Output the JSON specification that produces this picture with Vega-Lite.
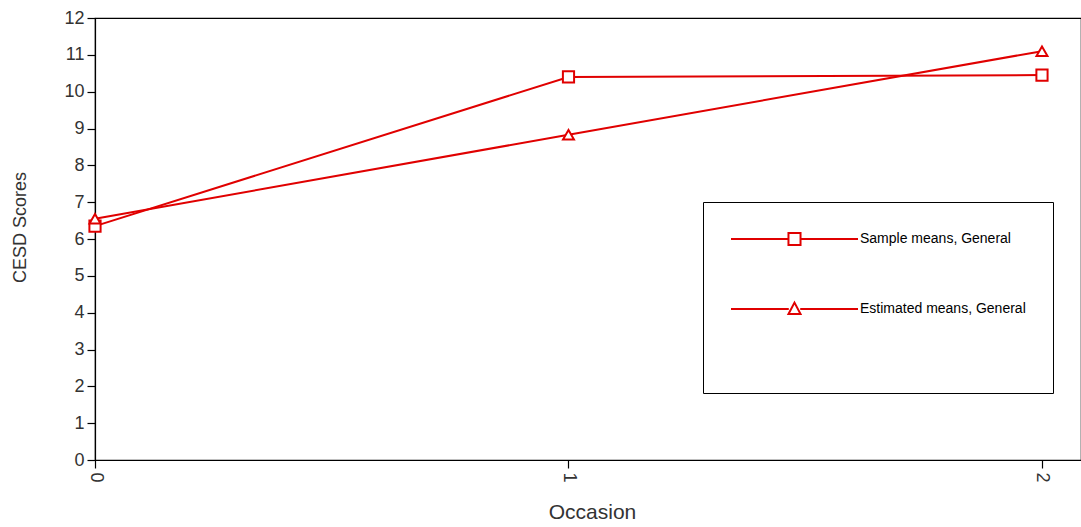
{
  "$schema": "https://vega.github.io/schema/vega-lite/v6.json",
  "autosize": {"type": "none"},
  "padding": {"left": 95, "top": 18, "right": 0, "bottom": 67},
  "width": 986,
  "height": 442,
  "background": "white",
  "config": {
    "view": {"stroke": "black", "strokeWidth": 1.2},
    "font": "Liberation Sans",
    "axis": {"grid": false, "domainColor": "black", "tickColor": "black", "labelColor": "#333", "titleColor": "#333", "labelFont": "Liberation Sans", "titleFont": "Liberation Sans", "titleFontWeight": "normal", "labelFontSize": 18, "titleFontSize": 19, "tickSize": 8, "domainWidth": 1.2, "tickWidth": 1.2, "labelOverlap": false}
  },
  "data": {
    "values": [
      {"series": "Sample means, General", "occasion": 0, "cesd": 6.35},
      {"series": "Sample means, General", "occasion": 1, "cesd": 10.4},
      {"series": "Sample means, General", "occasion": 2, "cesd": 10.45},
      {"series": "Estimated means, General", "occasion": 0, "cesd": 6.55},
      {"series": "Estimated means, General", "occasion": 1, "cesd": 8.83},
      {"series": "Estimated means, General", "occasion": 2, "cesd": 11.1}
    ]
  },
  "encoding": {
    "x": {"field": "occasion", "type": "quantitative", "scale": {"domain": [0, 2.0824], "nice": false, "zero": false},
      "axis": {"values": [0, 1, 2], "format": ".0f", "labelAngle": 90, "labelPadding": 4, "labelOverlap": false, "title": "Occasion", "titleFontSize": 21, "titleX": 497, "titleY": 52, "titleBaseline": "middle", "titleAlign": "center"}},
    "y": {"field": "cesd", "type": "quantitative", "scale": {"domain": [0, 12], "nice": false},
      "axis": {"values": [0,1,2,3,4,5,6,7,8,9,10,11,12], "labelPadding": 3, "title": "CESD Scores", "titleFontSize": 18, "titleX": -75, "titleY": 209, "titleAngle": -90, "titleBaseline": "middle", "titleAlign": "center"}}
  },
  "layer": [
    {
      "mark": {"type": "line", "strokeWidth": 2},
      "encoding": {
        "color": {"field": "series", "type": "nominal",
          "scale": {"domain": ["Sample means, General", "Estimated means, General"], "range": ["#e00000", "#e00000"]},
          "legend": {
            "title": "\u00a0\u00a0\u00a0\u00a0\u00a0\u00a0\u00a0\u00a0\u00a0\u00a0\u00a0\u00a0\u00a0\u00a0\u00a0\u00a0\u00a0\u00a0\u00a0\u00a0\u00a0\u00a0\u00a0\u00a0\u00a0\u00a0\u00a0\u00a0\u00a0\u00a0\u00a0\u00a0\u00a0\u00a0\u00a0\u00a0\u00a0\u00a0\u00a0\u00a0\u00a0\u00a0\u00a0\u00a0\u00a0\u00a0\u00a0\u00a0\u00a0\u00a0\u00a0\u00a0\u00a0\u00a0\u00a0\u00a0\u00a0\u00a0\u00a0\u00a0\u00a0\u00a0\u00a0\u00a0\u00a0\u00a0\u00a0\u00a0\u00a0\u00a0\u00a0\u00a0\u00a0\u00a0\u00a0\u00a0\u00a0\u00a0\u00a0\u00a0\u00a0\u00a0\u00a0\u00a0\u00a0\u00a0\u00a0\u00a0\u00a0\u00a0\u00a0\u00a0\u00a0\u00a0\u00a0\u00a0\u00a0\u00a0\u00a0\u00a0\u00a0\u00a0\u00a0\u00a0\u00a0\u00a0",
            "titleOrient": "bottom", "titleFontSize": 12, "titlePadding": 36, "titleLimit": 600,
            "orient": "none", "legendX": 608, "legendY": 184,
            "strokeColor": "black", "fillColor": "white", "padding": 27,
            "symbolSize": 16129, "symbolStrokeWidth": 2, "symbolFillColor": "white", "symbolStrokeColor": "#e00000",
            "clipHeight": 20, "rowPadding": 50, "labelOffset": 1,
            "labelFont": "Liberation Sans", "labelFontSize": 14, "labelColor": "black", "labelLimit": 400,
            "encode": {"symbols": {"update": {
              "shape": {"signal": "datum.value === 'Sample means, General' ? 'M-1,0L-0.095,0M0.095,0L1,0M-0.095,-0.095L0.095,-0.095L0.095,0.095L-0.095,0.095Z' : 'M-1,0L-0.09,0M0.09,0L1,0M0,-0.1L0.095,0.08L-0.095,0.08Z'"},
              "fill": {"value": "white"}, "stroke": {"value": "#e00000"}, "strokeWidth": {"value": 2}
            }}}
          }}
      }
    },
    {
      "transform": [{"filter": "datum.series === 'Sample means, General'"}],
      "mark": {"type": "point", "shape": "square", "filled": true, "fill": "white", "stroke": "#e00000", "strokeWidth": 2, "size": 125, "opacity": 1}
    },
    {
      "transform": [{"filter": "datum.series === 'Estimated means, General'"}],
      "mark": {"type": "point", "shape": "triangle-up", "filled": true, "fill": "white", "stroke": "#e00000", "strokeWidth": 2, "size": 120, "opacity": 1}
    }
  ]
}
